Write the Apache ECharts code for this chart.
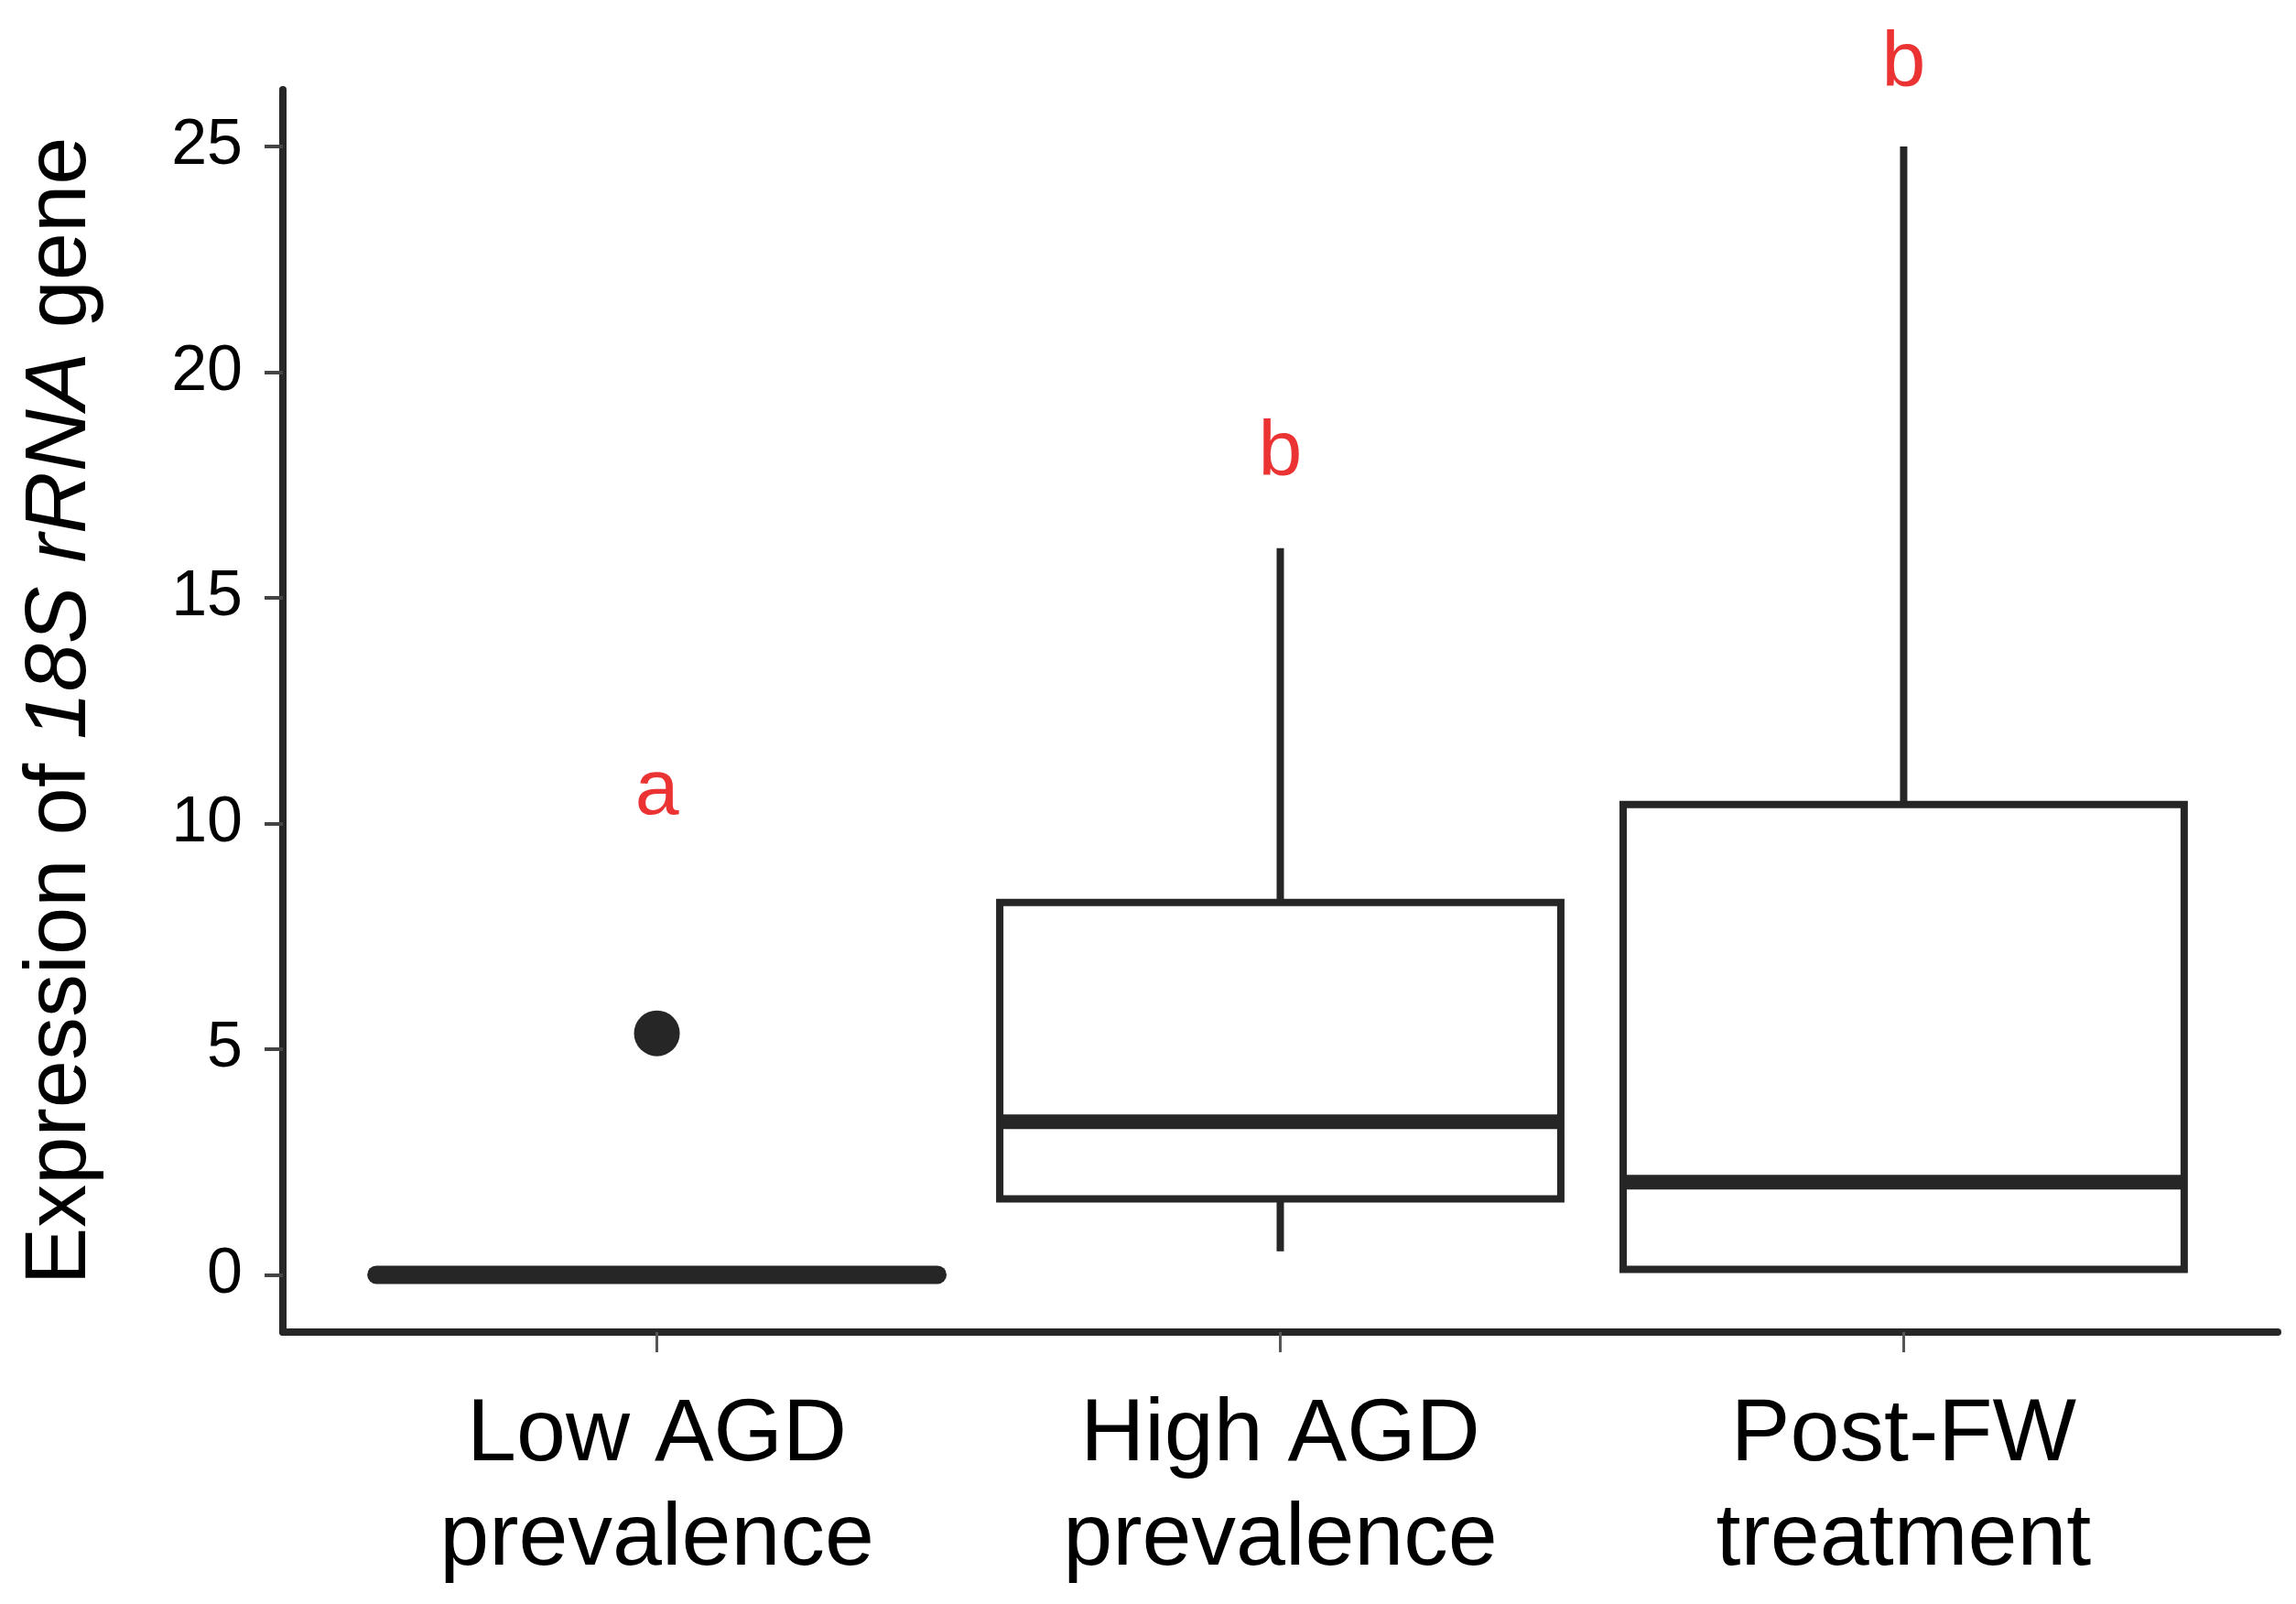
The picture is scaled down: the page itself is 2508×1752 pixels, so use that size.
<!DOCTYPE html>
<html>
<head>
<meta charset="utf-8">
<style>
  html, body { margin: 0; padding: 0; background: #fff; }
  #chart { width: 2508px; height: 1752px; }
</style>
<script src="https://cdn.jsdelivr.net/npm/echarts@6/dist/echarts.min.js"></script>
</head>
<body>
<div id="chart"></div>
<script>
// ---- data ----
const categories = ['Low AGD\nprevalence', 'High AGD\nprevalence', 'Post-FW\ntreatment'];
const whiskerLow  = [0, 0.52, 0.12];
const quartile1   = [0, 1.68, 0.12];
const medians     = [0, 3.39, 2.05];
const quartile3   = [0, 8.25, 10.42];
const whiskerHigh = [0, 16.1, 25.0];
const outlierGroup = [0];
const outlierValue = [5.35];
const sigLetters = ['a', 'b', 'b'];
const sigLetterY = [10.69, 18.2, 26.83];
const yTicks = [0, 5, 10, 15, 20, 25];

// ---- build ----
const boxData = categories.map((c, i) => [i + 1, whiskerLow[i], quartile1[i], medians[i], quartile3[i], whiskerHigh[i]]);
const outlierData = outlierGroup.map((g, i) => [g + 1, outlierValue[i]]);
const letterData = sigLetters.map((l, i) => ({ value: [i + 1, sigLetterY[i]], name: l }));
const xTicks = categories.map((c, i) => i + 1);

const stroke = '#262626';
const BOX_W = 0.9;
const FONT = '"Liberation Sans", Arial, sans-serif';

const chart = echarts.init(document.getElementById('chart'), null, { renderer: 'canvas' });
chart.setOption({
  backgroundColor: '#ffffff',
  animation: false,
  grid: { left: 309, right: 20, top: 98, bottom: 297, containLabel: false },
  xAxis: {
    type: 'value', min: 0.4, max: 3.6,
    splitLine: { show: false },
    axisLine: { show: true, onZero: false, lineStyle: { color: '#262626', width: 8 } },
    axisTick: { show: true, customValues: xTicks, length: 22, lineStyle: { color: '#555', width: 3 } },
    axisLabel: {
      customValues: xTicks,
      formatter: v => categories[Math.round(v) - 1] || '',
      color: '#000', fontFamily: FONT, fontSize: 97, lineHeight: 114, margin: 56
    }
  },
  yAxis: {
    type: 'value', min: -1.27, max: 26.26,
    splitLine: { show: false },
    axisLine: { show: true, onZero: false, lineStyle: { color: '#262626', width: 8 } },
    axisTick: { show: true, customValues: yTicks, length: 20, lineStyle: { color: '#444', width: 4 } },
    axisLabel: {
      customValues: yTicks,
      color: '#000', fontFamily: FONT, fontSize: 70, margin: 44
    },
    name: '{n|Expression of }{i|18S rRNA}{n| gene}',
    nameLocation: 'middle', nameRotate: 90, nameGap: 195,
    nameTextStyle: {
      rich: {
        n: { fontFamily: FONT, fontSize: 94, color: '#000' },
        i: { fontFamily: FONT, fontSize: 94, fontStyle: 'italic', color: '#000' }
      }
    }
  },
  series: [
    {
      type: 'custom',
      clip: false,
      data: boxData,
      renderItem: function (params, api) {
        const x = api.value(0);
        const lo = api.value(1), q1 = api.value(2), md = api.value(3), q3 = api.value(4), hi = api.value(5);
        const pLo = api.coord([x, lo]), pQ1 = api.coord([x, q1]), pMd = api.coord([x, md]);
        const pQ3 = api.coord([x, q3]), pHi = api.coord([x, hi]);
        const half = api.size([BOX_W, 0])[0] / 2;
        const children = [];
        if (hi > q3) children.push({ type: 'line', shape: { x1: pHi[0], y1: pHi[1], x2: pQ3[0], y2: pQ3[1] }, style: { stroke: stroke, lineWidth: 8 } });
        if (lo < q1) children.push({ type: 'line', shape: { x1: pLo[0], y1: pLo[1], x2: pQ1[0], y2: pQ1[1] }, style: { stroke: stroke, lineWidth: 8 } });
        children.push({ type: 'rect', shape: { x: pQ1[0] - half, y: pQ3[1], width: 2 * half, height: pQ1[1] - pQ3[1] }, style: { fill: '#fff', stroke: stroke, lineWidth: 8 } });
        const flat = (hi === lo);
        children.push({ type: 'line', shape: { x1: pMd[0] - half, y1: pMd[1], x2: pMd[0] + half, y2: pMd[1] }, style: { stroke: stroke, lineWidth: flat ? 20 : 16, lineCap: flat ? 'round' : 'butt' } });
        return { type: 'group', children: children };
      },
      z: 2
    },
    {
      type: 'scatter',
      data: outlierData,
      symbol: 'circle', symbolSize: 50,
      itemStyle: { color: '#262626', opacity: 1 },
      z: 3
    },
    {
      type: 'scatter',
      data: letterData,
      symbolSize: 0,
      clip: false,
      label: {
        show: true, position: 'inside',
        formatter: p => p.name,
        color: '#e60000', fontFamily: FONT, fontSize: 86
      },
      z: 4
    }
  ]
});
</script>
</body>
</html>
